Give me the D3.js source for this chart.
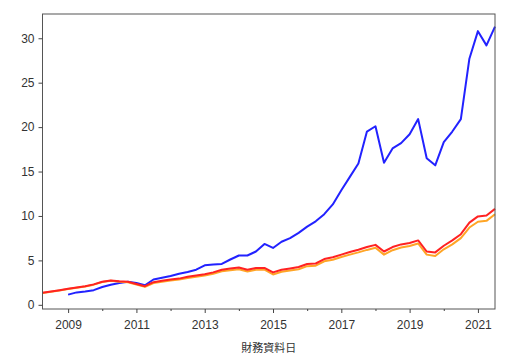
<!DOCTYPE html>
<html>
<head>
<meta charset="utf-8">
<script src="https://cdn.jsdelivr.net/npm/d3@7"></script>
<style>
  body { margin: 0; background: #fff; }
  svg text { font-family: "Liberation Sans", "DejaVu Sans", sans-serif; fill: #333; }
</style>
</head>
<body>
<svg id="chart"></svg>
<script>
const width = 508;
const height = 363;

// quarters from 2008Q2 to 2021Q3
const startYear = 2008, startQuarter = 2;

const redValues = [1.35, 1.5, 1.65, 1.8, 1.95, 2.1, 2.3, 2.6, 2.75, 2.65, 2.6, 2.35, 2.1, 2.55,
  2.7, 2.85, 2.95, 3.15, 3.3, 3.45, 3.65, 3.95, 4.1, 4.2, 3.95, 4.15, 4.15, 3.65, 3.95, 4.1,
  4.25, 4.6, 4.65, 5.15, 5.35, 5.65, 5.95, 6.2, 6.5, 6.75, 6.0, 6.5, 6.8, 6.95, 7.25, 6.0,
  5.9, 6.65, 7.25, 7.95, 9.25, 9.95, 10.05, 10.8];

const orangeValues = [1.32, 1.47, 1.62, 1.77, 1.92, 2.07, 2.27, 2.56, 2.7, 2.6, 2.55, 2.28, 2.02,
  2.45, 2.6, 2.75, 2.85, 3.03, 3.17, 3.3, 3.5, 3.78, 3.9, 4.0, 3.75, 3.95, 3.95, 3.42, 3.72,
  3.87, 4.0, 4.35, 4.4, 4.9, 5.08, 5.38, 5.65, 5.9, 6.18, 6.42, 5.65, 6.15, 6.45, 6.62, 6.9,
  5.65, 5.5, 6.25, 6.8, 7.5, 8.7, 9.35, 9.45, 10.2];

// blue starts at 2009Q1
const blueValues = [null, null, null, 1.15, 1.4, 1.5, 1.65, 2.0, 2.25, 2.45, 2.6, 2.45, 2.2,
  2.85, 3.05, 3.25, 3.5, 3.7, 3.95, 4.45, 4.55, 4.6, 5.1, 5.55, 5.55, 6.0, 6.85, 6.4, 7.1,
  7.5, 8.1, 8.8, 9.4, 10.2, 11.3, 12.9, 14.4, 15.9, 19.5, 20.1, 16.0, 17.6, 18.2, 19.2, 20.9,
  16.5, 15.7, 18.3, 19.5, 20.9, 27.7, 30.8, 29.2, 31.3];

const yTicks = [0, 5, 10, 15, 20, 25, 30];
const xMajorTicks = [2009, 2011, 2013, 2015, 2017, 2019, 2021];
const xMinorTicks = [2010, 2012, 2014, 2016, 2018, 2020];
const xLabel = "財務資料日";

const periods = redValues.map((_, i) => startYear + (startQuarter - 1) / 4 + i / 4);

const margin = { top: 14, right: 13, bottom: 54, left: 42.5 };

const svg = d3.select("#chart")
    .attr("width", width)
    .attr("height", height);

const x = d3.scaleLinear()
    .domain([periods[0], periods[periods.length - 1]])
    .range([margin.left, width - margin.right]);

const y = d3.scaleLinear()
    .domain([-0.47, 32.73])
    .range([height - margin.bottom, margin.top]);

// Lines
const line = d3.line()
    .defined(d => d.v != null)
    .x(d => x(d.t))
    .y(d => y(d.v));

const series = [
    { values: blueValues, color: "#2222ff" },
    { values: orangeValues, color: "#ffa526" },
    { values: redValues, color: "#ff2222" }
];

svg.append("g")
    .selectAll("path")
    .data(series)
    .join("path")
    .attr("fill", "none")
    .attr("stroke", d => d.color)
    .attr("stroke-width", 2)
    .attr("stroke-linejoin", "round")
    .attr("d", d => line(d.values.map((v, i) => ({ t: periods[i], v }))));

// Frame
svg.append("rect")
    .attr("x", margin.left)
    .attr("y", margin.top)
    .attr("width", width - margin.right - margin.left)
    .attr("height", height - margin.bottom - margin.top)
    .attr("fill", "none")
    .attr("stroke", "#555")
    .attr("stroke-width", 1);

// Axes
svg.append("g")
    .attr("transform", `translate(0,${height - margin.bottom})`)
    .call(d3.axisBottom(x).tickValues(xMajorTicks).tickFormat(d3.format("d")).tickSize(4).tickPadding(7));

svg.append("g")
    .attr("transform", `translate(0,${height - margin.bottom})`)
    .call(d3.axisBottom(x).tickValues(xMinorTicks).tickFormat("").tickSize(2));

svg.append("g")
    .attr("transform", `translate(${margin.left},0)`)
    .call(d3.axisLeft(y).tickValues(yTicks).tickSize(4).tickPadding(4));

svg.selectAll(".domain").remove();
svg.selectAll(".tick line").attr("stroke", "#444");
svg.selectAll(".tick text").attr("font-size", 12).attr("fill", "#333");

svg.append("text")
    .attr("x", (margin.left + width - margin.right) / 2)
    .attr("y", 352)
    .attr("text-anchor", "middle")
    .attr("font-size", 11)
    .style("font-family", "'Noto Sans CJK TC', sans-serif")
    .text(xLabel);
</script>
</body>
</html>
